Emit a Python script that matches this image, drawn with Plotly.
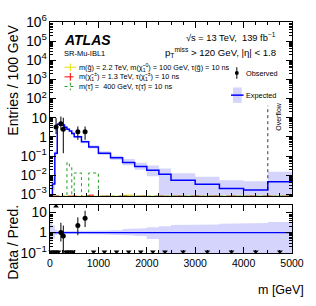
import plotly.graph_objects as go

# ---------------- data ----------------
edges = [0, 50, 100, 150, 200, 250, 300, 350, 400, 450, 500, 650, 800, 1000,
         1250, 1500, 1750, 2000, 2250, 2500, 3000, 3500, 4000, 4500, 5000]
expected = [0, 0.0035, 0.14, 4.5, 5.5, 4.2, 3.2, 2.5, 2.0, 1.5, 1.0, 0.55, 0.3,
            0.14, 0.08, 0.046, 0.028, 0.018, 0.011, 0.0054, 0.0033, 0.002,
            0.00166, 0.0045]
unc_up = [3.0, 2.2, 1.35, 1.15, 1.15, 1.15, 1.15, 1.15, 1.15, 1.15, 1.15, 1.17,
          1.2, 1.25, 1.3, 1.5, 1.6, 1.8, 2.0, 2.3, 2.5, 2.7, 2.9, 3.3]
unc_down = [0.35, 0.5, 0.75, 0.87, 0.87, 0.87, 0.87, 0.87, 0.87, 0.87, 0.87,
            0.85, 0.83, 0.8, 0.78, 0.72, 0.68, 0.48, 0.05, 0.05, 0.05, 0.05,
            0.05, 0.05]
sig_gluino = [0, 0, 0, 0, 0, 0, 0, 0, 0, 0, 0, 0, 0, 0, 0, 0.0009, 0, 0, 0, 0,
              0, 0, 0, 0]
sig_chargino = [0, 0, 0, 0, 0, 0, 0, 0, 0, 0, 0, 0, 0.0009, 0, 0, 0, 0, 0, 0, 0,
                0, 0, 0, 0]
sig_stau = [0, 0, 0, 0, 0, 0, 0, 0.045, 0.03, 0, 0.013, 0, 0.013, 0, 0, 0, 0,
            0, 0, 0, 0, 0, 0, 0]

obs_x = [125, 225, 275, 575, 725]
obs_y = [3.3, 4.8, 2.5, 1.85, 1.85]
obs_hi = [9.6, 11.5, 10.0, 3.5, 3.5]
obs_lo = [1.4, 2.2, 0.14, 0.7, 0.7]

ratio_x = [225, 275, 575, 725]
ratio_y = [1.0, 0.67, 2.2, 5.0]
ratio_hi = [3.0, 2.2, 5.5, 11.5]
ratio_lo = [0.36, 0.1, 0.74, 1.85]

ratio_up_x = [125]
ratio_up_y = [19]
ratio_down_x = [25, 75, 125, 175, 325, 375, 425, 475, 900, 1125, 1375, 1625,
                1875, 2125, 2375, 2750, 3250, 3750, 4250, 4750]
ratio_down_y = [0.115] * len(ratio_down_x)

overflow_edge = 4500

# ---------------- helpers ----------------
YMIN_LOG, YMAX_LOG = -3.1, 6.0
FLOOR_SIG = 10 ** YMIN_LOG
FLOOR = 1e-7


def steps(vals, floor=FLOOR):
    xs, ys = [], []
    for i, v in enumerate(vals):
        v = v if v > 0 else floor
        xs += [edges[i], edges[i + 1]]
        ys += [v, v]
    return xs, ys


def px_x(px):
    return (px - 50) / 250.0


def px_y(py):
    return (253 - py) / 240.0


BLUE = "#0000ff"
BAND = "rgba(160,160,250,0.45)"
YEL = "#e8e000"
RED = "#ff0000"
GRN = "#22a022"
FONT = "Liberation Sans, Arial, Helvetica, sans-serif"

fig = go.Figure()

# main panel: uncertainty band
band_lo = [e * d for e, d in zip(expected, unc_down)]
band_hi = [e * u for e, u in zip(expected, unc_up)]
bx, by = steps(band_lo)
fig.add_trace(go.Scatter(x=bx, y=by, mode="lines", line=dict(width=0),
                         hoverinfo="skip", xaxis="x", yaxis="y"))
bx, by = steps(band_hi)
fig.add_trace(go.Scatter(x=bx, y=by, mode="lines", line=dict(width=0),
                         fill="tonexty", fillcolor=BAND, hoverinfo="skip",
                         xaxis="x", yaxis="y"))

# signals
for vals, col, dash in [(sig_gluino, YEL, "solid"), (sig_chargino, RED, "dash"),
                        (sig_stau, GRN, "dot")]:
    sx, sy = steps(vals, floor=FLOOR_SIG)
    fig.add_trace(go.Scatter(x=sx, y=sy, mode="lines",
                             line=dict(color=col, width=1, dash=dash),
                             xaxis="x", yaxis="y"))

# expected
ex, ey = steps(expected)
fig.add_trace(go.Scatter(x=ex, y=ey, mode="lines",
                         line=dict(color=BLUE, width=1.5), xaxis="x", yaxis="y"))

# observed
fig.add_trace(go.Scatter(
    x=obs_x, y=obs_y, mode="markers",
    marker=dict(color="black", size=5),
    error_y=dict(type="data", symmetric=False,
                 array=[h - y for h, y in zip(obs_hi, obs_y)],
                 arrayminus=[y - l for l, y in zip(obs_lo, obs_y)],
                 width=0, thickness=1, color="black"),
    xaxis="x", yaxis="y"))

# ratio panel band
rx, ry = steps(unc_down)
fig.add_trace(go.Scatter(x=rx, y=ry, mode="lines", line=dict(width=0),
                         hoverinfo="skip", xaxis="x2", yaxis="y2"))
rx, ry = steps(unc_up)
fig.add_trace(go.Scatter(x=rx, y=ry, mode="lines", line=dict(width=0),
                         fill="tonexty", fillcolor=BAND, hoverinfo="skip",
                         xaxis="x2", yaxis="y2"))
fig.add_trace(go.Scatter(x=[edges[0], edges[-1]], y=[1, 1], mode="lines",
                         line=dict(color=BLUE, width=1.2), xaxis="x2", yaxis="y2"))

fig.add_trace(go.Scatter(
    x=ratio_x, y=ratio_y, mode="markers",
    marker=dict(color="black", size=5),
    error_y=dict(type="data", symmetric=False,
                 array=[h - y for h, y in zip(ratio_hi, ratio_y)],
                 arrayminus=[y - l for l, y in zip(ratio_lo, ratio_y)],
                 width=0, thickness=1, color="black"),
    xaxis="x2", yaxis="y2"))
fig.add_trace(go.Scatter(x=ratio_down_x, y=ratio_down_y, mode="markers",
                         marker=dict(symbol="triangle-down", color="black", size=5),
                         cliponaxis=False, xaxis="x2", yaxis="y2"))
fig.add_trace(go.Scatter(x=ratio_up_x, y=ratio_up_y, mode="markers",
                         marker=dict(symbol="triangle-up", color="black", size=5),
                         cliponaxis=False, xaxis="x2", yaxis="y2"))

main_dom = [(253 - 194) / 240.0, 1.0]
ratio_dom = [0.0, (253 - 203) / 240.0]

common_x = dict(range=[0, 5000], dtick=1000, tick0=0, ticks="inside", ticklen=6,
                tickcolor="black", showline=True, linecolor="black", linewidth=1,
                mirror="allticks", showgrid=False, zeroline=False,
                minor=dict(ticks="inside", ticklen=3, dtick=250, tickcolor="black",
                           showgrid=False))
common_y = dict(type="log", dtick=1, tick0=0, exponentformat="power",
                ticks="inside", ticklen=6, tickcolor="black", showline=True,
                linecolor="black", linewidth=1, mirror="allticks", showgrid=False,
                zeroline=False, tickfont=dict(size=11),
                minor=dict(ticks="inside", ticklen=3, dtick="D1", tickcolor="black",
                           showgrid=False))

fig.update_layout(
    width=316, height=306,
    margin=dict(l=50, r=16, t=13, b=53),
    plot_bgcolor="white", paper_bgcolor="white",
    showlegend=False,
    font=dict(family=FONT, color="black"),
    xaxis=dict(domain=[0, 1], anchor="y", showticklabels=False, matches="x2",
               **common_x),
    yaxis=dict(domain=main_dom, anchor="x", range=[YMIN_LOG, YMAX_LOG], **common_y),
    xaxis2=dict(domain=[0, 1], anchor="y2", tickfont=dict(size=10.5), **common_x),
    yaxis2=dict(domain=ratio_dom, anchor="x2", range=[-1, 1.35], **common_y),
)

ann = []


def text(px, py, s, size=7.3, xanchor="left", yanchor="middle", angle=0):
    ann.append(dict(x=px_x(px), y=px_y(py), xref="paper", yref="paper", text=s,
                    showarrow=False, xanchor=xanchor, yanchor=yanchor,
                    textangle=angle, borderpad=0,
                    font=dict(size=size, family=FONT, color="black")))


text(63, 32, "<b><i>ATLAS</i></b>", size=14)
text(63, 46, "SR-Mu-IBL1", size=7.5)
text(284, 29, "√s = 13 TeV,  139 fb<sup>−1</sup>", size=9.3, xanchor="right")
text(284, 45, "p<sub>T</sub><sup>miss</sup> > 120 GeV, |η| < 1.8", size=9.6,
     xanchor="right")
text(79, 60, "m(g̃) = 2.2 TeV, m(χ̃<sub>1</sub><sup>0</sup>) = 100 GeV, τ(g̃) = 10 ns")
text(79, 70, "m(χ̃<sub>1</sub><sup>±</sup>) = 1.3 TeV, τ(χ̃<sub>1</sub><sup>±</sup>) = 10 ns")
text(79, 80, "m(τ̃) =  400 GeV, τ(τ̃) = 10 ns")
text(251, 66, "Observed")
text(251, 89, "Expected")
text(286, 111, "Overflow", size=7, xanchor="center", angle=-90)
text(12, 15, "Entries / 100 GeV", size=14, xanchor="center", yanchor="top", angle=-90)
text(12, 202, "Data / Pred.", size=14, xanchor="center", yanchor="top", angle=-90)
text(313, 291, "m [GeV]", size=12.5, xanchor="right")
fig.update_layout(annotations=ann)

shapes = []


def seg(x0, y0, x1, y1, color, dash="solid", width=1):
    shapes.append(dict(type="line", xref="paper", yref="paper",
                       x0=px_x(x0), y0=px_y(y0), x1=px_x(x1), y1=px_y(y1),
                       line=dict(color=color, width=width, dash=dash)))


# legend symbols for signals
for yy, col, dash in [(60, YEL, "solid"), (70, RED, "dash"), (80, GRN, "dot")]:
    seg(65, yy, 77, yy, col, dash)
    seg(71, yy - 4, 71, yy + 4, col, dash)

# observed symbol
seg(243, 60, 243, 72, "black")
shapes.append(dict(type="circle", xref="paper", yref="paper",
                   x0=px_x(241), x1=px_x(245), y0=px_y(68), y1=px_y(64),
                   fillcolor="black", line=dict(color="black", width=0)))
# expected symbol
shapes.append(dict(type="rect", xref="paper", yref="paper",
                   x0=px_x(239), x1=px_x(248), y0=px_y(97), y1=px_y(81),
                   fillcolor=BAND, line=dict(width=0)))
seg(237, 89, 250, 89, BLUE, width=1.5)

# overflow boundary
shapes.append(dict(type="line", xref="x", yref="paper", x0=overflow_edge,
                   x1=overflow_edge, y0=main_dom[0], y1=px_y(100),
                   line=dict(color="black", width=0.8, dash="dot")))
fig.update_layout(shapes=shapes)

fig.write_html("out.html",
               config={"displayModeBar": False, "staticPlot": True},
               post_script="document.body.style.margin='0';"
                           "document.body.style.padding='0';")
